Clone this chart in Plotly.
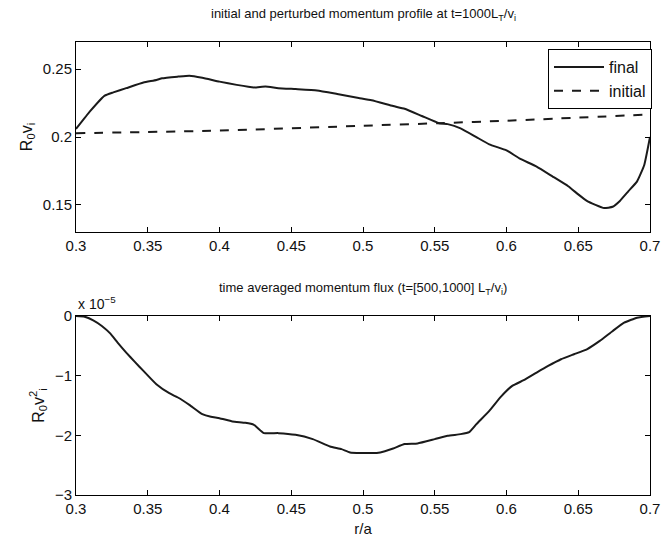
import plotly.graph_objects as go
from plotly.subplots import make_subplots

# ---- data ----
r_final = [0.300, 0.310, 0.320, 0.326, 0.335, 0.347, 0.356, 0.360, 0.371, 0.379, 0.388, 0.400,
           0.412, 0.424, 0.432, 0.441, 0.453, 0.468, 0.482, 0.497, 0.506, 0.521, 0.529, 0.541,
           0.553, 0.559, 0.568, 0.579, 0.588, 0.600, 0.609, 0.621, 0.632, 0.643, 0.650, 0.656,
           0.662, 0.668, 0.674, 0.679, 0.685, 0.691, 0.696, 0.700]
v_final = [0.2059, 0.2192, 0.2305, 0.2329, 0.2360, 0.2401, 0.2420, 0.2433, 0.2445, 0.2452, 0.2437, 0.2408,
           0.2384, 0.2365, 0.2372, 0.2360, 0.2353, 0.2343, 0.2317, 0.2288, 0.2271, 0.2228, 0.2208, 0.2155,
           0.2102, 0.2095, 0.2064, 0.1999, 0.1946, 0.1902, 0.1842, 0.1782, 0.1710, 0.1637, 0.1577, 0.1529,
           0.1500, 0.1476, 0.1486, 0.1529, 0.1601, 0.1673, 0.1794, 0.2000]

r_initial = [0.300, 0.400, 0.500, 0.553, 0.600, 0.700]
v_initial = [0.2028, 0.2047, 0.2083, 0.2102, 0.2120, 0.2166]

r_flux = [0.300, 0.306, 0.312, 0.318, 0.324, 0.329, 0.335, 0.341, 0.347, 0.356, 0.365, 0.371,
          0.379, 0.388, 0.394, 0.400, 0.409, 0.418, 0.424, 0.431, 0.441, 0.453, 0.465, 0.477,
          0.485, 0.491, 0.506, 0.512, 0.521, 0.529, 0.538, 0.550, 0.559, 0.568, 0.574, 0.579,
          0.588, 0.596, 0.604, 0.612, 0.621, 0.629, 0.638, 0.647, 0.656, 0.665, 0.674, 0.682,
          0.691, 0.700]
flux = [0.000, -0.011, -0.073, -0.167, -0.296, -0.446, -0.613, -0.770, -0.920, -1.143, -1.294, -1.366,
        -1.489, -1.645, -1.690, -1.712, -1.768, -1.790, -1.824, -1.963, -1.963, -1.991, -2.064, -2.186,
        -2.231, -2.287, -2.298, -2.287, -2.220, -2.147, -2.136, -2.064, -2.008, -1.980, -1.946, -1.813,
        -1.590, -1.355, -1.171, -1.076, -0.948, -0.837, -0.725, -0.641, -0.558, -0.418, -0.251, -0.112,
        -0.028, 0.000]  # in units of 1e-5

x_ticks = [0.3, 0.35, 0.4, 0.45, 0.5, 0.55, 0.6, 0.65, 0.7]
x_ticklabels = ["0.3", "0.35", "0.4", "0.45", "0.5", "0.55", "0.6", "0.65", "0.7"]
top_yticks = [0.15, 0.2, 0.25]
top_yticklabels = ["0.15", "0.2", "0.25"]
bot_yticks = [0, -1, -2, -3]
bot_yticklabels = ["0", "\u22121", "\u22122", "\u22123"]

FONT = "Liberation Sans, Arial, Helvetica, sans-serif"
TXT = "#111"
W, H = 662, 539
ml, mr, mt, mb = 76, 11, 42, 44
ph = H - mt - mb
top_dom = [(H - mb - 232) / ph, 1.0]
bot_dom = [0.0, (H - mb - 316) / ph]

fig = make_subplots(rows=2, cols=1)
fig.add_trace(go.Scatter(x=r_final, y=v_final, mode="lines", name="final",
                         line=dict(color="#1a1a1a", width=2, shape="spline", smoothing=0.4)), row=1, col=1)
fig.add_trace(go.Scatter(x=r_initial, y=v_initial, mode="lines", name="initial",
                         line=dict(color="#1a1a1a", width=2, dash="dash", shape="spline", smoothing=0.6)), row=1, col=1)
fig.add_trace(go.Scatter(x=r_flux, y=flux, mode="lines", showlegend=False,
                         line=dict(color="#1a1a1a", width=2, shape="spline", smoothing=0.4)), row=2, col=1)

axis_common = dict(showline=True, linecolor="black", linewidth=1, mirror="ticks", automargin=False,
                   ticks="inside", ticklen=5, tickcolor="black", showgrid=False, zeroline=False,
                   tickfont=dict(family=FONT, size=15, color=TXT))
fig.update_xaxes(range=[0.3, 0.7], tickvals=x_ticks, ticktext=x_ticklabels, domain=[0, 1], **axis_common)
fig.update_yaxes(range=[0.13, 0.27], tickvals=top_yticks, ticktext=top_yticklabels,
                 domain=top_dom, row=1, col=1, **axis_common)
fig.update_yaxes(range=[-3, 0], tickvals=bot_yticks, ticktext=bot_yticklabels,
                 domain=bot_dom, row=2, col=1, **axis_common)

fig.update_yaxes(title=dict(text="R<sub>0</sub>v<sub>i</sub>", standoff=6,
                            font=dict(family=FONT, size=16, color=TXT)), row=1, col=1)
fig.update_yaxes(title=dict(text="R<sub>0</sub>v<sup>2</sup><sub>i</sub>", standoff=6,
                            font=dict(family=FONT, size=16, color=TXT)), row=2, col=1)
fig.update_xaxes(title=dict(text="r/a", standoff=7, font=dict(family=FONT, size=15, color=TXT)), row=2, col=1)

fig.add_annotation(text="initial and perturbed momentum profile at t=1000L<sub>T</sub>/v<sub>i</sub>",
                   xref="paper", yref="paper", x=0.5, y=1 + (mt - 15) / ph, yanchor="middle",
                   showarrow=False, font=dict(family=FONT, size=13, color=TXT))
fig.add_annotation(text="time averaged momentum flux (t=[500,1000] L<sub>T</sub>/v<sub>i</sub>)",
                   xref="paper", yref="paper", x=0.5, y=(H - mb - 288) / ph, yanchor="middle",
                   showarrow=False, font=dict(family=FONT, size=13, color=TXT))
fig.add_annotation(text="x 10<sup>\u22125</sup>", xref="paper", yref="paper", x=0, xanchor="left",
                   y=(H - mb - 303) / ph, yanchor="middle", showarrow=False,
                   font=dict(family=FONT, size=14, color=TXT))

fig.update_layout(
    width=W, height=H, margin=dict(l=ml, r=mr, t=mt, b=mb),
    paper_bgcolor="white", plot_bgcolor="white",
    legend=dict(x=(652 - ml) / (W - ml - mr), y=1 - (49 - mt) / ph, xanchor="right", yanchor="top",
                bgcolor="white", bordercolor="black", borderwidth=1, itemwidth=50,
                font=dict(family=FONT, size=16, color=TXT), tracegroupgap=0),
    font=dict(family=FONT, color=TXT),
)

fig.write_html("out.html")
